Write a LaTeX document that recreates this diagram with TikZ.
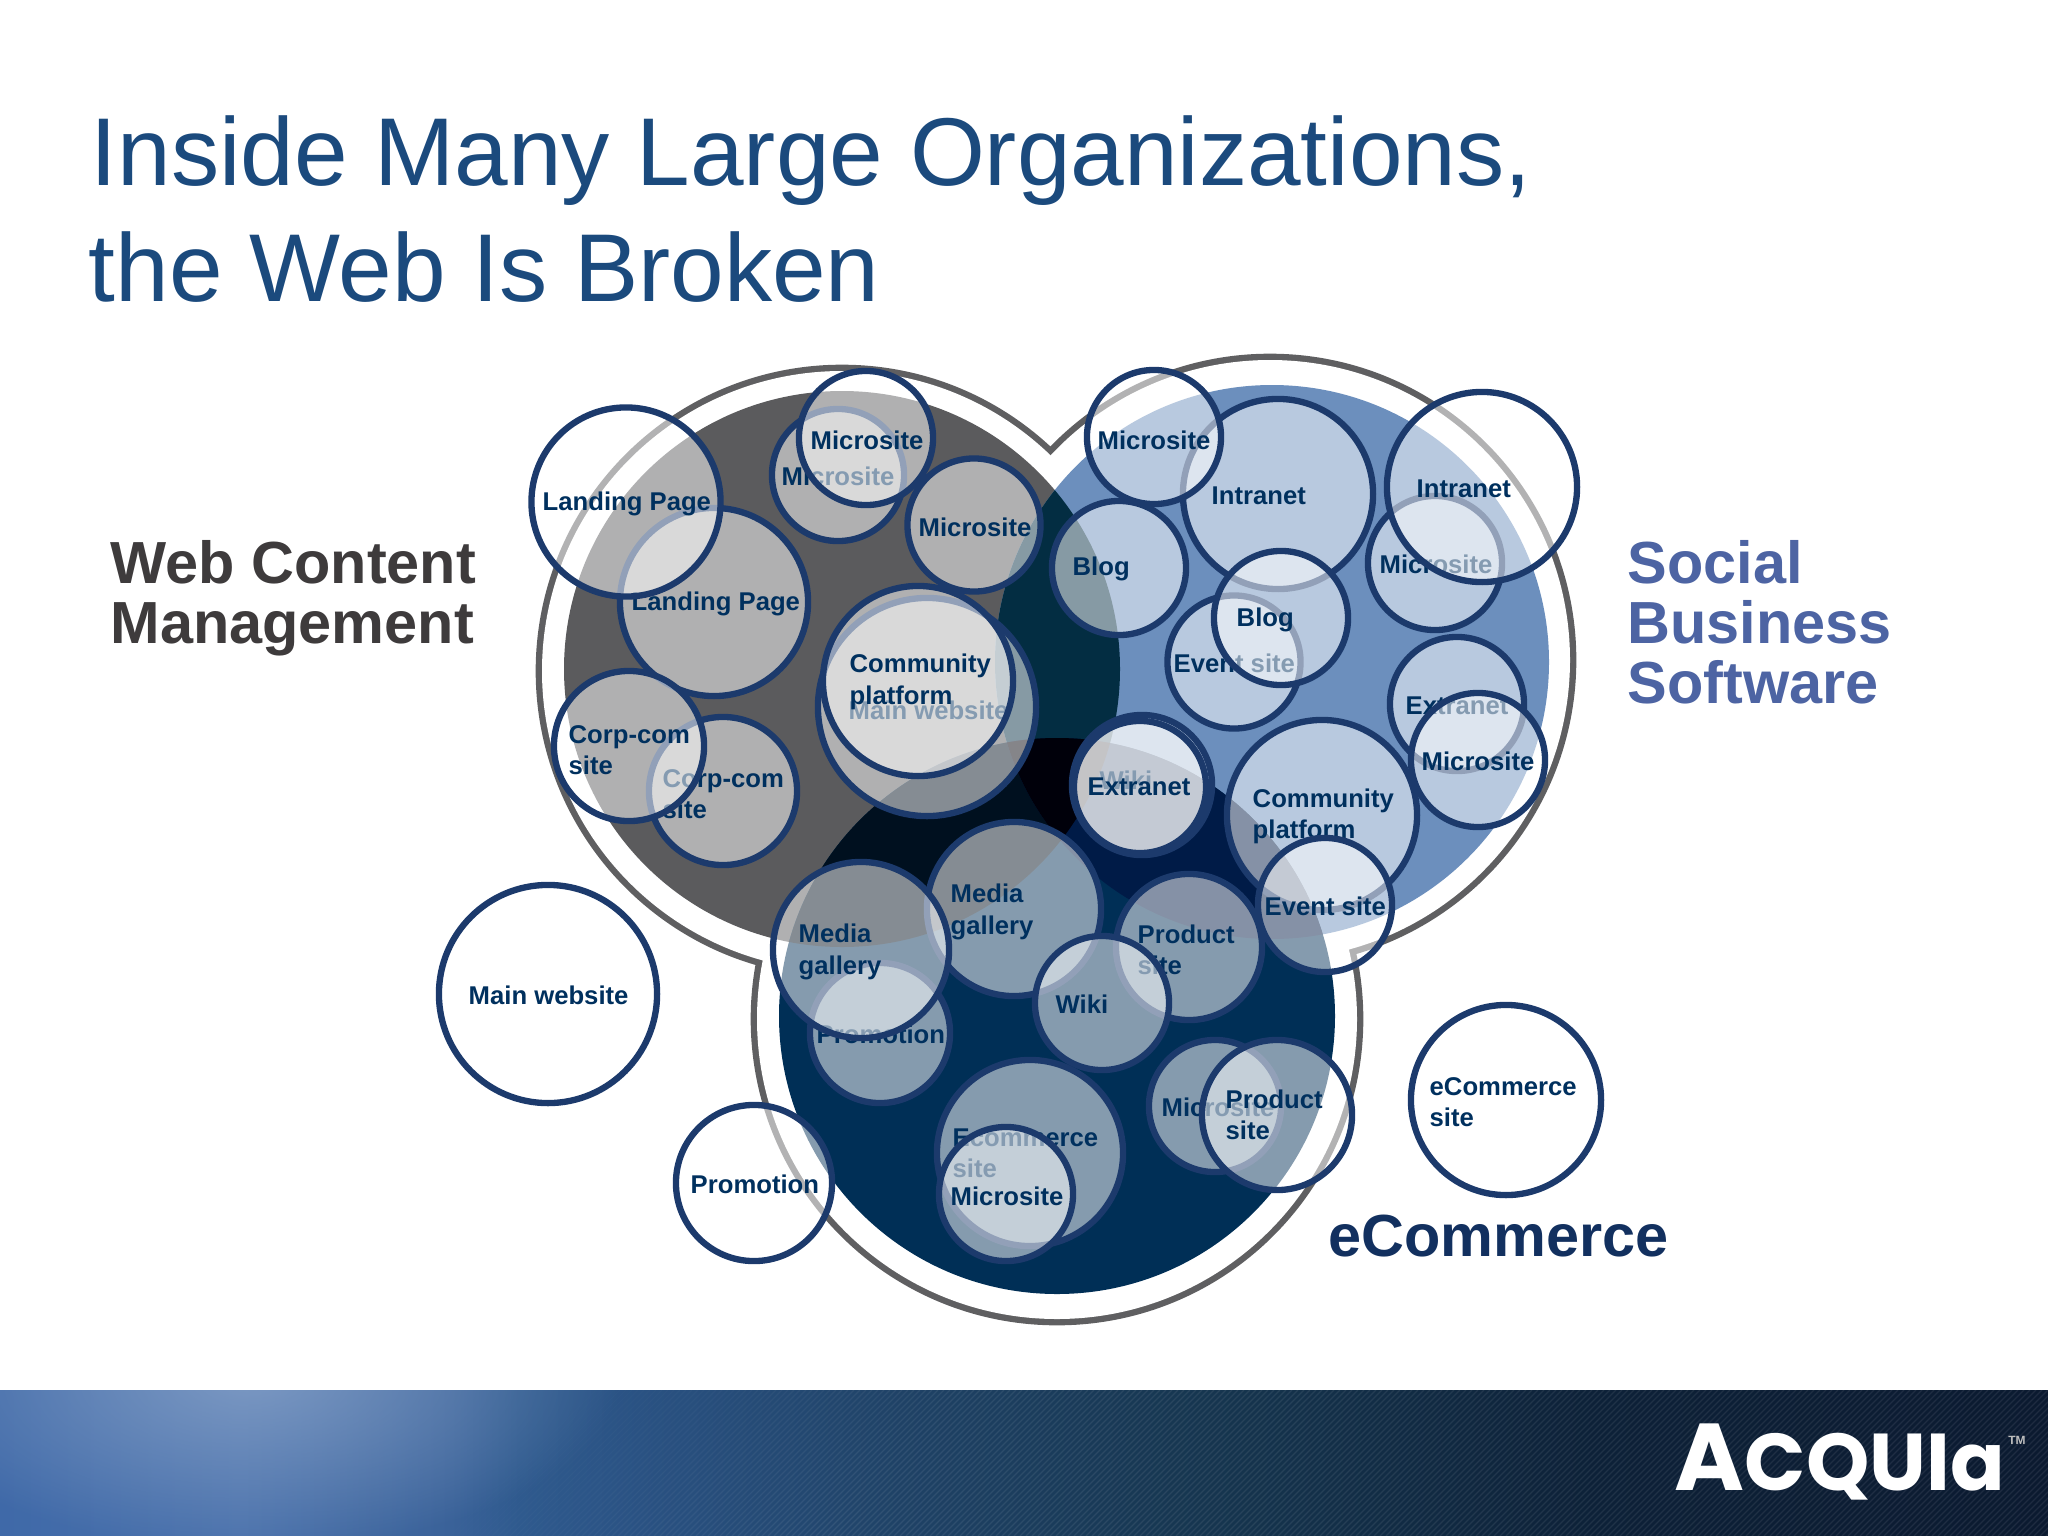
\documentclass[tikz,border=0pt]{standalone}
\usepackage{fontspec}
\setmainfont{Liberation Sans}
\newfontfamily\logofont{Poppins}
\usetikzlibrary{positioning,fadings}

\definecolor{graydisk}{HTML}{5B5B5D}
\definecolor{bluedisk}{HTML}{6C8FBD}
\definecolor{navydisk}{HTML}{002F56}
\definecolor{grayblue}{HTML}{032D42}
\definecolor{graynavy}{HTML}{00101F}
\definecolor{bluenavy}{HTML}{001B47}
\definecolor{allthree}{HTML}{00000A}
\definecolor{rimgray}{HTML}{5F5F61}
\definecolor{sitering}{HTML}{1C3A6C}
\definecolor{sitetext}{HTML}{00305E}
\definecolor{titleblue}{HTML}{1B4A7D}
\definecolor{wcmgray}{HTML}{3E3B3C}
\definecolor{socialblue}{HTML}{4D64A3}
\definecolor{commerceblue}{HTML}{12305F}
\definecolor{fa}{HTML}{3F69A8}
\definecolor{fb}{HTML}{4B72AC}
\definecolor{fc}{HTML}{3A6299}
\definecolor{fd}{HTML}{2F5A8E}
\definecolor{fe}{HTML}{2A5283}
\definecolor{ff}{HTML}{1F4266}
\definecolor{fg}{HTML}{163650}
\definecolor{fh}{HTML}{0D2138}
\definecolor{fi}{HTML}{0B1A30}
\definecolor{glow}{HTML}{86A1C8}

\pgfdeclarehorizontalshading{footershade}{100bp}{
    color(0bp)=(fa); color(25bp)=(fa); color(30.9bp)=(fb); color(36bp)=(fc);
    color(37.7bp)=(fd); color(40.6bp)=(fe); color(47bp)=(ff); color(54.3bp)=(fg);
    color(64bp)=(fh); color(75bp)=(fi); color(100bp)=(fi)}
\tikzfading[name=glowfade,inner color=transparent!20,outer color=transparent!100]

\tikzset{
    site/.style={circle,draw=sitering,line width=1.8pt,fill=white,fill opacity=.52,
        inner sep=0pt,minimum size=#1*.02cm},
    sitelabel/.style={anchor=west,inner sep=0pt,align=left,text=sitetext,
        font=\fontsize{7.3}{8.9}\selectfont\bfseries},
    sidelabel/.style={anchor=west,inner sep=0pt,align=left,
        font=\fontsize{16.9}{17.1}\selectfont\bfseries},
    titleline/.style={anchor=base west,inner sep=0pt,text=titleblue,
        font=\fontsize{27.4}{33}\selectfont}
}

\begin{document}
\begin{tikzpicture}[x=.01cm,y=-.01cm]
    \useasboundingbox (0,0) rectangle (2048,1536);

    % footer band
    \shade[shading=footershade] (0,1390) rectangle (2048,1536);
    \begin{scope}
        \clip (0,1390) rectangle (2048,1536);
        \fill[glow,path fading=glowfade] (250,1380) ellipse [x radius=370,y radius=170];
        \foreach \sx [evaluate=\sx as \fadeop using {min(.08,max(0,(\sx-420)*.0002))}] in {420,426,...,2048}
            \draw[white,opacity=\fadeop,line width=.35pt] (\sx,1536) -- (\sx+146,1390);
    \end{scope}
    \node[anchor=base west,inner sep=0pt,text=white,font=\logofont\bfseries] (logo) at (1674,1490)
        {{\fontsize{27}{27}\selectfont A}{\fontsize{22.9}{27}\selectfont CQUIa}};
    \node[anchor=center,inner sep=0pt,text=white!75!black,font=\fontsize{3.4}{3.4}\selectfont\bfseries] (tm) at (2017,1440) {TM};

    % title
    \node[titleline] (title1) at (90,185) {Inside Many Large Organizations,};
    \node[titleline] (title2) at (88,301) {the Web Is Broken};

    % rim of the three groups
    \draw[rimgray,line width=3.6pt] (842,671) circle [radius=300] (1270,660) circle [radius=300] (1057,1019) circle [radius=300];
    \fill[white] (842,671) circle [radius=300] (1270,660) circle [radius=300] (1057,1019) circle [radius=300];

    % the three disks and their overlaps
    \fill[graydisk] (842,669) circle [radius=278];
    \fill[bluedisk] (1272,662) circle [radius=277];
    \fill[navydisk] (1057,1016) circle [radius=278];
    \begin{scope}
        \clip (842,669) circle [radius=278];
        \fill[grayblue] (1272,662) circle [radius=277];
        \fill[graynavy] (1057,1016) circle [radius=278];
    \end{scope}
    \begin{scope}
        \clip (1272,662) circle [radius=277];
        \fill[bluenavy] (1057,1016) circle [radius=278];
        \clip (842,669) circle [radius=278];
        \fill[allthree] (1057,1016) circle [radius=278];
    \end{scope}

    \begin{scope}[shift={(0,1)}]
    % web content management
    \node[site=66] (mic1) at (838,474) {};
    \node[sitelabel] (mic1t) at (781,475) {Microsite};
    \node[site=67] (mic2) at (866,437) {};
    \node[sitelabel] (mic2t) at (810,439) {Microsite};
    \node[site=66.5] (mic3) at (974,524) {};
    \node[sitelabel] (mic3t) at (918,526) {Microsite};
    \node[site=94] (land1) at (714,601) {};
    \node[sitelabel] (land1t) at (631,603) {Landing Page};
    \node[site=94.5] (land2) at (626,501) {};
    \node[sitelabel] (land2t) at (542,503) {Landing Page};
    \node[site=109] (main1) at (927,706) {};
    \node[sitelabel] (main1t) at (848,709) {Main website};
    \node[site=95] (comm1) at (918,680) {};
    \node[sitelabel] (comm1t) at (849,681) {Community\\platform};
    \node[site=74] (corp1) at (723,790) {};
    \node[sitelabel] (corp1t) at (662,793) {Corp-com\\site};
    \node[site=75] (corp2) at (629,745) {};
    \node[sitelabel] (corp2t) at (568,749) {Corp-com\\site};

    % social business software
    \node[site=95] (intra1) at (1278,493) {};
    \node[sitelabel] (intra1t) at (1211,495) {Intranet};
    \node[site=67] (mic4) at (1154,436) {};
    \node[sitelabel] (mic4t) at (1097,439) {Microsite};
    \node[site=67] (mic5) at (1435,562) {};
    \node[sitelabel] (mic5t) at (1379,563) {Microsite};
    \node[site=95] (intra2) at (1482,486) {};
    \node[sitelabel] (intra2t) at (1416,488) {Intranet};
    \node[site=67] (blog1) at (1119,567) {};
    \node[sitelabel] (blog1t) at (1072,568) {Blog};
    \node[site=66.5] (event1) at (1234,661) {};
    \node[sitelabel] (event1t) at (1173,662) {Event site};
    \node[site=67] (blog2) at (1281,617) {};
    \node[sitelabel] (blog2t) at (1236,619) {Blog};
    \node[site=67] (extra1) at (1457,703) {};
    \node[sitelabel] (extra1t) at (1405,705) {Extranet};
    \node[site=67] (mic6) at (1478,759) {};
    \node[sitelabel] (mic6t) at (1421,760) {Microsite};
    \node[site=70] (wiki1) at (1142,784) {};
    \node[sitelabel] (wiki1t) at (1099,779) {Wiki};
    \node[site=66] (extra2) at (1140,786) {};
    \node[sitelabel] (extra2t) at (1087,786) {Extranet};
    \node[site=95] (comm2) at (1322,814) {};
    \node[sitelabel] (comm2t) at (1252,815) {Community\\platform};
    \node[site=67] (event2) at (1325,904) {};
    \node[sitelabel] (event2t) at (1264,905) {Event site};

    % ecommerce
    \node[site=87] (media1) at (1014,908) {};
    \node[sitelabel] (media1t) at (950,911) {Media\\gallery};
    \node[site=70] (promo1) at (880,1032) {};
    \node[sitelabel] (promo1t) at (816,1033) {Promotion};
    \node[site=88] (media2) at (861,949) {};
    \node[sitelabel] (media2t) at (798,951) {Media\\gallery};
    \node[site=73] (prod1) at (1189,946) {};
    \node[sitelabel] (prod1t) at (1137,949) {Product\\site};
    \node[site=67] (wiki2) at (1102,1002) {};
    \node[sitelabel] (wiki2t) at (1055,1003) {Wiki};
    \node[site=93] (ecom1) at (1030,1152) {};
    \node[sitelabel] (ecom1t) at (952,1152) {Ecommerce\\site};
    \node[site=67] (mic7) at (1006,1193) {};
    \node[sitelabel] (mic7t) at (950,1195) {Microsite};
    \node[site=66] (mic8) at (1215,1105) {};
    \node[sitelabel] (mic8t) at (1161,1106) {Microsite};
    \node[site=75] (prod2) at (1277,1114) {};
    \node[sitelabel] (prod2t) at (1225,1114) {Product\\site};

    % outside the groups
    \node[site=109] (main2) at (548,993) {};
    \node[sitelabel] (main2t) at (468,994) {Main website};
    \node[site=78] (promo2) at (754,1182) {};
    \node[sitelabel] (promo2t) at (690,1183) {Promotion};
    \node[site=95] (ecom2) at (1506,1099) {};
    \node[sitelabel] (ecom2t) at (1429,1101) {eCommerce\\site};
    \end{scope}

    % group names
    \node[sidelabel,text=wcmgray] (wcm) at (110,598) {Web Content\\Management};
    \node[sidelabel,text=socialblue] (social) at (1627,622) {Social\\Business\\Software};
    \node[sidelabel,text=commerceblue] (commerce) at (1328,1236) {eCommerce};
\end{tikzpicture}
\end{document}
